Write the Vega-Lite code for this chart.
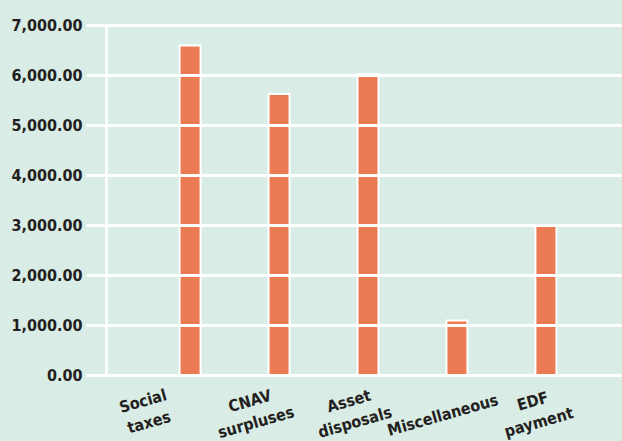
{
  "$schema": "https://vega.github.io/schema/vega-lite/v6.json",
  "width": 516,
  "height": 350,
  "autosize": "none",
  "padding": {"left": 106, "top": 25, "right": 0, "bottom": 66},
  "background": "#d9ece5",
  "config": {"view": {"stroke": null}, "font": "DejaVu Sans Condensed"},
  "data": {
    "values": [
      {"source": "Social taxes", "value": 6590},
      {"source": "CNAV surpluses", "value": 5620},
      {"source": "Asset disposals", "value": 6020},
      {"source": "Miscellaneous", "value": 1090},
      {"source": "EDF payment", "value": 3000}
    ]
  },
  "mark": {"type": "bar", "width": 21, "xOffset": 4, "fill": "#eb7b52", "stroke": "white", "strokeWidth": 2},
  "encoding": {
    "x": {
      "field": "source",
      "type": "nominal",
      "sort": null,
      "scale": {"paddingInner": 0, "paddingOuter": 0.4},
      "axis": {
        "title": null,
        "labelAngle": -16,
        "labelAlign": "center",
        "labelBaseline": "middle",
        "labelExpr": "split(datum.label, ' ')",
        "labelFontSize": 16,
        "labelFontWeight": "bold",
        "labelColor": "#231f20",
        "labelLineHeight": 22,
        "ticks": false,
        "domain": false,
        "labelPadding": {
          "condition": {"test": "datum.value == 'Miscellaneous'", "value": 40},
          "value": 26
        },
        "labelOffset": {
          "condition": [
            {"test": "datum.value == 'Social taxes'", "value": -43},
            {"test": "datum.value == 'CNAV surpluses'", "value": -25},
            {"test": "datum.value == 'Asset disposals'", "value": -15},
            {"test": "datum.value == 'Miscellaneous'", "value": -10}
          ],
          "value": -9
        }
      }
    },
    "y": {
      "field": "value",
      "type": "quantitative",
      "scale": {"domain": [0, 7000]},
      "axis": {
        "title": null,
        "values": [0, 1000, 2000, 3000, 4000, 5000, 6000, 7000],
        "format": ",.2f",
        "gridColor": "white",
        "gridWidth": 3,
        "gridOpacity": 1,
        "tickColor": "white",
        "tickWidth": 3,
        "tickSize": 20,
        "domainColor": "white",
        "domainWidth": 2.5,
        "labelPadding": 4,
        "labelFontSize": 16,
        "labelFontWeight": "bold",
        "labelColor": "#231f20",
        "zindex": 1
      }
    }
  }
}
